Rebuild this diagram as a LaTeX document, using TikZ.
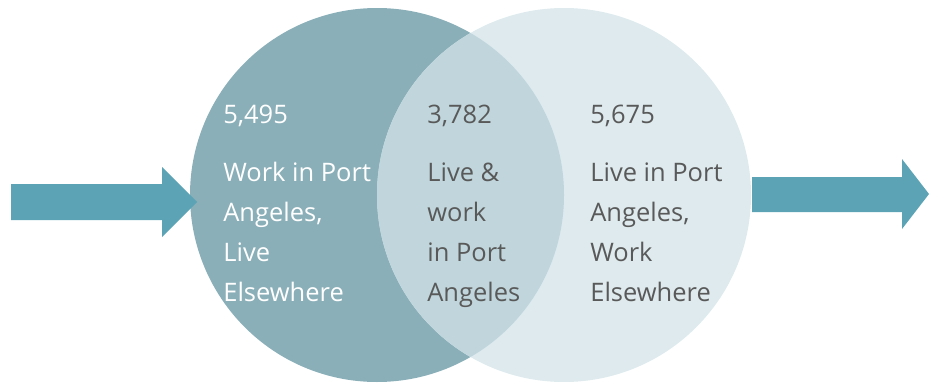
\documentclass[tikz,border=0pt]{standalone}
\usepackage{fontspec}
\setmainfont{Open Sans}
\definecolor{cerchiosx}{HTML}{8AAFB8}
\definecolor{cerchiodx}{HTML}{DEEAED}
\definecolor{lente}{HTML}{C0D6DC}
\definecolor{freccia}{HTML}{5BA3B5}
\definecolor{testoscuro}{HTML}{595959}
\begin{document}
\begin{tikzpicture}[x=0.02cm, y=-0.02cm,
  etichetta/.style={anchor=base west, align=left, inner sep=0pt,
    font=\fontsize{14.5}{22.7}\selectfont}]
\useasboundingbox (0,0) rectangle (929,385);

% cerchi del diagramma
\fill[cerchiosx] (377,195) circle (187);
\fill[cerchiodx] (564,195) circle (187);
\begin{scope}
  \clip (377,195) circle (187);
  \fill[lente] (564,195) circle (187);
\end{scope}

% frecce di entrata e uscita
\fill[freccia] (11,184) -- (162,184) -- (162,167) -- (197,202) -- (162,237) -- (162,220) -- (11,220) -- cycle;
\fill[freccia] (752,177) -- (902,177) -- (902,159) -- (929,194) -- (902,229) -- (902,212) -- (752,212) -- cycle;

% numeri
\node[etichetta, text=white] (num-sx) at (223,123) {5,495};
\node[etichetta, text=testoscuro] (num-centro) at (427,123) {3,782};
\node[etichetta, text=testoscuro] (num-dx) at (590,123) {5,675};

% descrizioni (ancorate all'ultima riga)
\node[etichetta, text=white] (testo-sx) at (223,301) {Work in Port\\Angeles,\\Live\\Elsewhere};
\node[etichetta, text=testoscuro] (testo-centro) at (427,301) {Live \&\\work\\in Port\\Angeles};
\node[etichetta, text=testoscuro] (testo-dx) at (590,301) {Live in Port\\Angeles,\\Work\\Elsewhere};

\end{tikzpicture}
\end{document}
